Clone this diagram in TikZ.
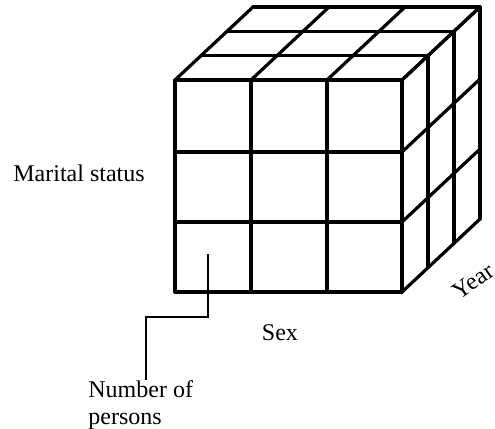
\documentclass[tikz,border=0pt]{standalone}
\usepackage{fontspec}
\setmainfont{Liberation Serif}
\usetikzlibrary{positioning}
\tikzset{
  cgrid/.style={line width=1.6pt, line join=round, line cap=round},
  clbl/.style={font=\fontsize{12}{13.5}\selectfont, inner sep=0pt},
  clead/.style={line width=0.6pt},
}

\begin{document}
\begin{tikzpicture}[x=0.5pt, y=-0.5pt]
        \useasboundingbox (0,0) rectangle (495,429);
        % front face
        \foreach \x in {175,251,327,402} \draw[cgrid](\x,80)--(\x,292);
        \foreach \y in {80,152,222,292} \draw[cgrid](175,\y)--(402,\y);
        % top face
        \foreach \x in {175,251,327,402} \draw[cgrid](\x,80)--++(78,-73);
        \foreach \j in {1,2,3} \draw[cgrid](175+26*\j,80-24.33*\j)--++(227,0);
        % right face
        \foreach \y in {80,152,222,292} \draw[cgrid](402,\y)--++(78,-73);
        \foreach \j in {1,2,3} \draw[cgrid](402+26*\j,80-24.33*\j)--++(0,212);
        % labels
        \node[clbl](marital) at (79,173){Marital status};
        \node[clbl](sex) at (280,333){Sex};
        \node[clbl, rotate=35](year) at (473,281){Year};
        \node[clbl, align=left, anchor=north west](persons) at (88,380){Number of\\persons};
        \coordinate(tip) at (208,254);
        \coordinate(bend) at (146,317);
        \draw[clead](tip)|-(bend)--(bend|-persons.north);
      \end{tikzpicture}
\end{document}
